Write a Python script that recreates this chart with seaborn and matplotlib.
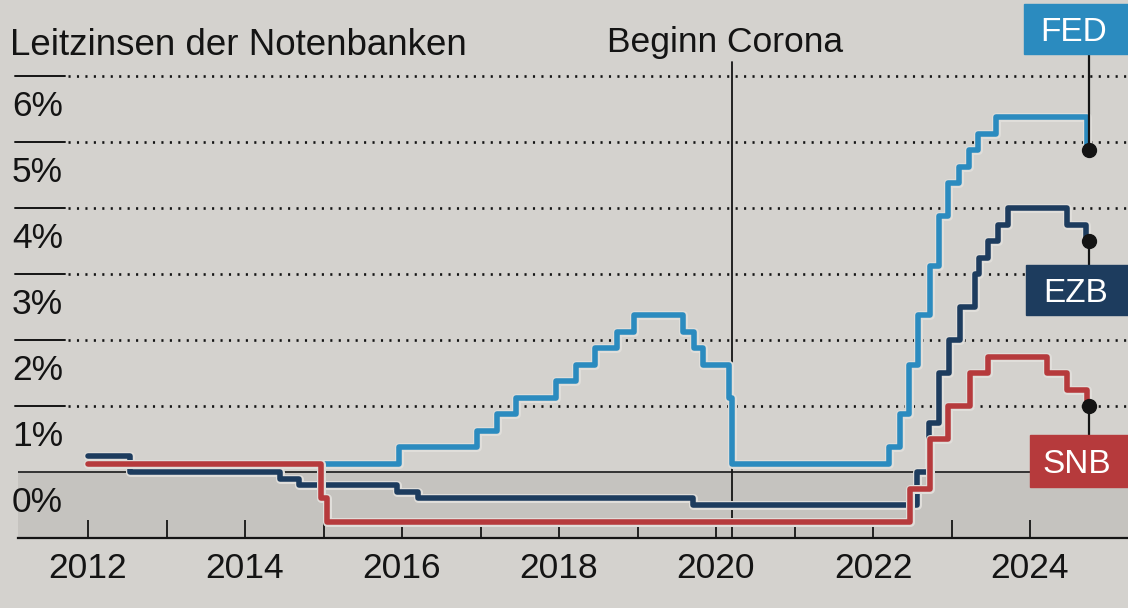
import numpy as np
import pandas as pd
import seaborn as sns
import matplotlib.pyplot as plt
import matplotlib.patheffects as pe
from matplotlib.patches import Rectangle

# policy rates, step changes (decimal year, percent)
fed_dates = [2012.0, 2015.96, 2016.95, 2017.21, 2017.45, 2017.96, 2018.22, 2018.46, 2018.74,
             2018.96, 2019.58, 2019.72, 2019.83, 2020.17, 2020.2, 2022.21, 2022.34, 2022.46,
             2022.57, 2022.73, 2022.84, 2022.96, 2023.09, 2023.22, 2023.34, 2023.57, 2024.72, 2024.75]
fed_rates = [0.125, 0.375, 0.625, 0.875, 1.125, 1.375, 1.625, 1.875, 2.125,
             2.375, 2.125, 1.875, 1.625, 1.125, 0.125, 0.375, 0.875, 1.625,
             2.375, 3.125, 3.875, 4.375, 4.625, 4.875, 5.125, 5.375, 4.875, 4.875]

ezb_dates = [2012.0, 2012.53, 2014.45, 2014.69, 2015.93, 2016.21, 2019.71, 2022.56, 2022.71,
             2022.84, 2022.97, 2023.11, 2023.3, 2023.35, 2023.46, 2023.59, 2023.72, 2024.47,
             2024.71, 2024.75]
ezb_rates = [0.25, 0.0, -0.1, -0.2, -0.3, -0.4, -0.5, 0.0, 0.75,
             1.5, 2.0, 2.5, 3.0, 3.25, 3.5, 3.75, 4.0, 3.75,
             3.5, 3.5]

snb_dates = [2012.0, 2014.97, 2015.04, 2022.47, 2022.72, 2022.96, 2023.23, 2023.47, 2024.22,
             2024.47, 2024.73, 2024.75]
snb_rates = [0.125, -0.4, -0.75, -0.25, 0.5, 1.0, 1.5, 1.75, 1.5,
             1.25, 1.0, 1.0]

banks = ["FED", "EZB", "SNB"]
colors = {"FED": "#2b8bbf", "EZB": "#1d3c5e", "SNB": "#b63a3c"}
grid_levels = [1, 2, 3, 4, 5, 6]
y_labels = ["0%", "1%", "2%", "3%", "4%", "5%", "6%"]
years = list(range(2012, 2025))
corona = 2020.2

df = pd.concat([
    pd.DataFrame({"jahr": fed_dates, "zins": fed_rates, "bank": "FED"}),
    pd.DataFrame({"jahr": ezb_dates, "zins": ezb_rates, "bank": "EZB"}),
    pd.DataFrame({"jahr": snb_dates, "zins": snb_rates, "bank": "SNB"}),
])

sns.set_theme(style="white")
plt.rcParams["font.family"] = ["Liberation Sans", "DejaVu Sans"]

BG = "#d4d2ce"
SHADE = "#c5c3bf"
INK = "#141414"
FS = 25.5

# pixel layout: 2012 at x=88px, 78.5 px per year; 0% at y=472px, 66 px per percent
fig = plt.figure(figsize=(11.28, 6.08), dpi=100)
fig.patch.set_facecolor(BG)
ax = fig.add_axes([18 / 1128, (608 - 538) / 608, 1 - 18 / 1128, 538 / 608])
ax.set_facecolor(BG)
x_left = 2012 - 70 / 78.5
x_right = 2012 + 1040 / 78.5
ax.set_xlim(x_left, x_right)
ax.set_ylim(-1, 472 / 66)

ax.axhspan(-1, 0, color=SHADE, zorder=0, lw=0)
ax.axhline(0, color="#333333", lw=1.4, zorder=1)

for lv in grid_levels:
    ax.plot([2011.07, 2011.71], [lv, lv], color=INK, lw=1.4, clip_on=False, zorder=1)
    ax.plot([2011.74, x_right], [lv, lv], color=INK, lw=1.9,
            linestyle=(0, (0.8, 2.4)), zorder=1)

for i, lab in enumerate(y_labels):
    ax.text(2011.03, i - 0.6, lab, fontsize=FS, color=INK, ha="left",
            va="baseline", clip_on=False)

ax.plot([corona, corona], [-1, 6.21], color=INK, lw=1.3, zorder=2)
ax.text(2020.11, 6.36, "Beginn Corona", fontsize=FS, color=INK, ha="center", va="baseline")
ax.text(2011.0, 6.32, "Leitzinsen der Notenbanken", fontsize=26.5, color=INK,
        ha="left", va="baseline", clip_on=False)

sns.lineplot(data=df, x="jahr", y="zins", hue="bank", hue_order=banks, palette=colors,
             drawstyle="steps-post", linewidth=4.0, legend=False, estimator=None,
             path_effects=[pe.Stroke(linewidth=6.5, foreground="#e0deda"), pe.Normal()],
             zorder=3, ax=ax)

end_vals = {"FED": fed_rates[-1], "EZB": ezb_rates[-1], "SNB": snb_rates[-1]}
end_x = fed_dates[-1]
boxes = {"FED": (2023.92, 6.33, 7.09), "EZB": (2023.95, 2.38, 3.14), "SNB": (2024.0, -0.23, 0.56)}
for b in banks:
    bx, b0, b1 = boxes[b]
    v = end_vals[b]
    edge = b0 if v < b0 else b1
    ax.plot([end_x, end_x], [v, edge], color=INK, lw=1.6, zorder=4)
    ax.plot(end_x, v, "o", color=INK, markersize=10, zorder=5)
    ax.add_patch(Rectangle((bx, b0), x_right - bx + 0.2, b1 - b0, color=colors[b],
                           zorder=6, clip_on=False))
    ax.text(bx + (2025.2 - bx) / 2, (b0 + b1) / 2, b, color="white", fontsize=24,
            ha="center", va="center_baseline", zorder=7)

for s in ["top", "left", "right"]:
    ax.spines[s].set_visible(False)
ax.spines["bottom"].set_color(INK)
ax.spines["bottom"].set_linewidth(1.6)
ax.set_xticks(years)
ax.set_xticklabels([str(y) if y % 2 == 0 else "" for y in years])
ax.tick_params(axis="x", direction="in", length=13, width=1.3, pad=10,
               labelsize=FS, colors=INK, bottom=True)
ax.set_yticks([])
ax.set_xlabel("")
ax.set_ylabel("")

fig.savefig("out.png", dpi=100, facecolor=BG)
